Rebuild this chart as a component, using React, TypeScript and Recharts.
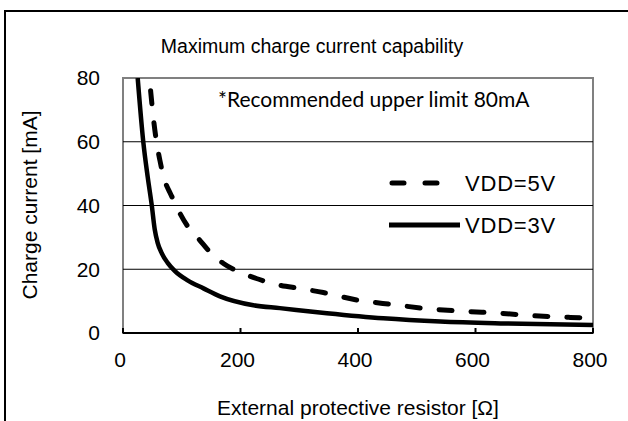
import React from "react";
import {
  LineChart,
  Line,
  XAxis,
  YAxis,
  ReferenceLine,
  ReferenceArea,
} from "recharts";

// Resistance [Ω] and charge current [mA]
const r5V = [47, 52, 57, 63, 69, 80, 88, 94, 110, 128, 150, 171, 200, 227, 267, 300, 341, 400, 460, 520, 582, 642, 701, 761, 800];
const i5V = [76, 67, 60, 54, 49, 44, 41, 38.6, 33.5, 29.7, 25, 21.8, 19, 17.1, 15, 14, 12.7, 10.3, 8.9, 7.6, 6.8, 6.2, 5.4, 4.9, 4.7];
const r3V = [25, 34.5, 42, 49, 54, 59, 66, 76, 88, 110, 137, 165, 222, 267, 347, 443, 540, 650, 800];
const i3V = [80, 60, 49, 40, 32.5, 28.3, 25, 22, 19.5, 16.5, 14, 11.5, 8.7, 7.8, 6.2, 4.6, 3.6, 3.0, 2.5];

const xTicks = [0, 200, 400, 600, 800];
const yTicks = [0, 20, 40, 60, 80];
const gridValues = [20, 40, 60];
const seriesNames = ["VDD=5V", "VDD=3V"];

const data5V = r5V.map((r, k) => ({ r, i: i5V[k] }));
const data3V = r3V.map((r, k) => ({ r, i: i3V[k] }));

const FONT = "'Liberation Sans', Arial, sans-serif";

const XTick = (props: any) => {
  const { x, y, payload } = props;
  return (
    <g>
      <line x1={x} y1={y} x2={x} y2={y - 5} stroke="#000" strokeWidth={2} />
      <text x={x - 3} y={y + 34} textAnchor="middle" fontSize={21} fontFamily={FONT} fill="#000">
        {payload.value}
      </text>
    </g>
  );
};

export default function App() {
  return (
    <div style={{ position: "absolute", left: 0, top: 0, width: 628, height: 421, overflow: "hidden", background: "#fff" }}>
      <div style={{ position: "absolute", left: 4, top: 10, width: 700, height: 500, borderTop: "2px solid #000", borderLeft: "2px solid #000" }} />
      <LineChart
        width={628}
        height={421}
        data={data3V}
        margin={{ top: 78, right: 35, bottom: 58, left: 63 }}
      >
        <ReferenceArea x1={0} x2={800} y1={0} y2={80} fill="none" stroke="#808080" strokeWidth={2} ifOverflow="visible" />
        {gridValues.map((v) => (
          <ReferenceLine key={v} y={v} stroke="#000" strokeWidth={1} />
        ))}
        <XAxis
          type="number"
          dataKey="r"
          domain={[0, 800]}
          ticks={xTicks}
          height={30}
          tickSize={0}
          tickMargin={0}
          tick={<XTick />}
          axisLine={{ stroke: "#000", strokeWidth: 2 }}
          tickLine={false}
          allowDataOverflow
        />
        <YAxis
          type="number"
          domain={[0, 80]}
          ticks={yTicks}
          width={60}
          tickSize={0}
          tickMargin={23}
          axisLine={false}
          tickLine={false}
          tick={{ fontSize: 21, fontFamily: FONT, fill: "#000" }}
          allowDataOverflow
        />
        <Line
          data={data5V}
          dataKey="i"
          name={seriesNames[0]}
          type="monotone"
          stroke="#000"
          strokeWidth={5}
          strokeDasharray="13 19"
          strokeLinecap="round"
          dot={false}
          isAnimationActive={false}
        />
        <Line
          data={data3V}
          dataKey="i"
          name={seriesNames[1]}
          type="monotone"
          stroke="#000"
          strokeWidth={4.5}
          dot={false}
          isAnimationActive={false}
        />
      </LineChart>
      <svg width={628} height={421} style={{ position: "absolute", left: 0, top: 0, pointerEvents: "none" }}>
        <text x={312} y={53} textAnchor="middle" fontSize={19.5} fontFamily={FONT} fill="#000">
          Maximum charge current capability
        </text>
        <text x={218} y={107} fontSize={21} fontFamily="Lato, 'Open Sans', sans-serif" fill="#000">
          *Recommended upper limit 80mA
        </text>
        <g>
          <line x1={392} y1={183} x2={440} y2={183} stroke="#000" strokeWidth={5} strokeDasharray="12 21" strokeLinecap="round" />
          <text x={465} y={183} dy="0.36em" fontSize={22} letterSpacing={0.8} fontFamily={FONT} fill="#000">{seriesNames[0]}</text>
          <line x1={389} y1={225} x2={460} y2={225} stroke="#000" strokeWidth={5} />
          <text x={465} y={225} dy="0.36em" fontSize={22} letterSpacing={0.8} fontFamily={FONT} fill="#000">{seriesNames[1]}</text>
        </g>
        <text x={358} y={415} textAnchor="middle" fontSize={21} fontFamily={FONT} fill="#000">
          External protective resistor [Ω]
        </text>
        <text
          x={37}
          y={205}
          textAnchor="middle"
          fontSize={21}
          fontFamily={FONT}
          fill="#000"
          transform="rotate(-90 37 205)"
        >
          Charge current [mA]
        </text>
      </svg>
    </div>
  );
}
